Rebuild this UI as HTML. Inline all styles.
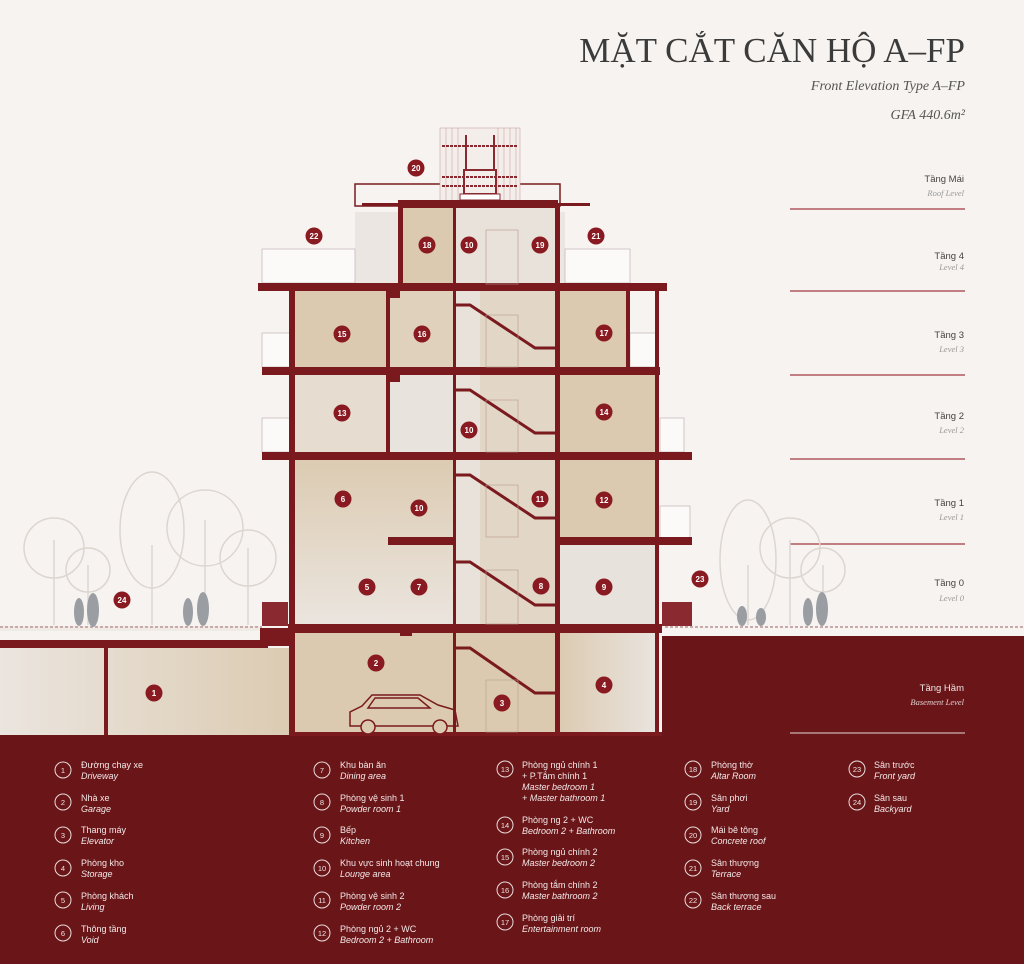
<!DOCTYPE html>
<html><head><meta charset="utf-8"><style>
body{margin:0;background:#f7f3f0;}
svg{display:block}
.t{font-family:"Liberation Sans",sans-serif;}
.s{font-family:"Liberation Serif",serif;}
</style></head><body>
<svg width="1024" height="964" viewBox="0 0 1024 964" xmlns="http://www.w3.org/2000/svg">
<defs>
<linearGradient id="g1" x1="0" x2="1"><stop offset="0" stop-color="#ebe5df"/><stop offset="1" stop-color="#dccbb2"/></linearGradient>
<linearGradient id="g2" x1="0" x2="1"><stop offset="0" stop-color="#dccbb2"/><stop offset="1" stop-color="#e9e4df"/></linearGradient>
<linearGradient id="g3" x1="0" y1="0" x2="0" y2="1"><stop offset="0" stop-color="#dccbb2"/><stop offset="1" stop-color="#ebe5df"/></linearGradient>
</defs>
<rect width="1024" height="964" fill="#f7f3f0"/>
<!-- title -->
<text x="965" y="62" text-anchor="end" class="s" font-size="35" fill="#3b3b3b">MẶT CẮT CĂN HỘ A–FP</text>
<text x="965" y="90" text-anchor="end" class="s" font-size="14" font-style="italic" fill="#555">Front Elevation Type A–FP</text>
<text x="965" y="119" text-anchor="end" class="s" font-size="14" font-style="italic" fill="#555">GFA 440.6m²</text>
<!-- level labels -->
<g class="t" font-size="9.5" fill="#444" text-anchor="end">
<text x="964" y="182">Tầng Mái</text><text x="964" y="259">Tầng 4</text><text x="964" y="338">Tầng 3</text><text x="964" y="419">Tầng 2</text><text x="964" y="506">Tầng 1</text><text x="964" y="586">Tầng 0</text>
</g>
<g class="s" font-size="8.5" font-style="italic" fill="#999" text-anchor="end">
<text x="964" y="196">Roof Level</text><text x="964" y="270">Level 4</text><text x="964" y="352">Level 3</text><text x="964" y="433">Level 2</text><text x="964" y="520">Level 1</text><text x="964" y="601">Level 0</text>
</g>
<g stroke="#a33a42" stroke-width="1.2">
<line x1="790" y1="209" x2="965" y2="209"/><line x1="790" y1="291" x2="965" y2="291"/><line x1="790" y1="375" x2="965" y2="375"/><line x1="790" y1="459" x2="965" y2="459"/><line x1="790" y1="544" x2="965" y2="544"/>
</g>
<!-- trees -->
<g fill="none" stroke="#ddd6d0" stroke-width="1.5">
<circle cx="54" cy="548" r="30"/><circle cx="88" cy="570" r="22"/><ellipse cx="152" cy="530" rx="32" ry="58"/><circle cx="205" cy="528" r="38"/><circle cx="248" cy="558" r="28"/>
<line x1="54" y1="540" x2="54" y2="625"/><line x1="88" y1="565" x2="88" y2="625"/><line x1="152" y1="545" x2="152" y2="625"/><line x1="205" y1="520" x2="205" y2="625"/><line x1="248" y1="548" x2="248" y2="625"/>
<ellipse cx="748" cy="560" rx="28" ry="60"/><circle cx="790" cy="548" r="30"/><circle cx="823" cy="570" r="22"/>
<line x1="748" y1="565" x2="748" y2="625"/><line x1="790" y1="540" x2="790" y2="625"/><line x1="823" y1="565" x2="823" y2="625"/>
</g>
<!-- ground -->
<rect x="0" y="626" width="262" height="5" fill="#f1ebe6"/>
<path d="M0 628 Q3 622 6 628 Q9 622 12 628" fill="none"/>
<line x1="0" y1="627" x2="262" y2="627" stroke="#c9a9aa" stroke-width="2" stroke-dasharray="3 2"/>
<line x1="665" y1="627" x2="1024" y2="627" stroke="#c9a9aa" stroke-width="2" stroke-dasharray="3 2"/>
<rect x="0" y="640" width="268" height="8" fill="#7a1a1f"/>
<rect x="0" y="648" width="292" height="87" fill="url(#g1)"/>
<rect x="104" y="648" width="4" height="87" fill="#7a1a1f"/>
<rect x="260" y="628" width="36" height="18" fill="#7a1a1f"/>
<rect x="262" y="602" width="26" height="24" fill="#8a2a30"/>
<rect x="662" y="636" width="362" height="328" fill="#6a1518"/>
<rect x="662" y="602" width="30" height="24" fill="#8a2a30"/>
<rect x="0" y="735" width="1024" height="229" fill="#6a1518"/>
<line x1="790" y1="733" x2="965" y2="733" stroke="#e8d8d8" stroke-width="1"/>
<text x="964" y="691" text-anchor="end" class="t" font-size="9.5" fill="#f0e6e6">Tầng Hầm</text>
<text x="964" y="705" text-anchor="end" class="s" font-size="8.5" font-style="italic" fill="#e0cfcf">Basement Level</text>
<!-- people -->
<g fill="#9a9ea3">
<ellipse cx="79" cy="612" rx="5" ry="14"/><ellipse cx="93" cy="610" rx="6" ry="17"/><ellipse cx="188" cy="612" rx="5" ry="14"/><ellipse cx="203" cy="609" rx="6" ry="17"/>
<ellipse cx="742" cy="616" rx="5" ry="10"/><ellipse cx="761" cy="617" rx="5" ry="9"/><ellipse cx="808" cy="612" rx="5" ry="14"/><ellipse cx="822" cy="609" rx="6" ry="17"/>
</g>
<!-- building fills -->
<rect x="295" y="633" width="260" height="102" fill="#dccab0"/>
<rect x="560" y="633" width="97" height="102" fill="url(#g2)"/>
<rect x="295" y="460" width="160" height="166" fill="url(#g3)"/>
<rect x="455" y="208" width="100" height="425" fill="#e9e2da"/>
<rect x="480" y="290" width="75" height="340" fill="#e2d6c6"/>
<rect x="560" y="460" width="97" height="80" fill="#dccab0"/>
<rect x="560" y="545" width="97" height="81" fill="#e8e2dc"/>
<rect x="295" y="375" width="93" height="78" fill="#e6dcd0"/>
<rect x="390" y="375" width="63" height="78" fill="#e9e3dd"/>
<rect x="560" y="375" width="97" height="78" fill="#dccab0"/>
<rect x="295" y="291" width="93" height="77" fill="#dccab0"/>
<rect x="390" y="291" width="63" height="77" fill="#e0d1bc"/>
<rect x="560" y="291" width="68" height="77" fill="#dccab0"/>
<rect x="402" y="208" width="51" height="76" fill="#dccab0"/>
<rect x="355" y="212" width="45" height="72" fill="#ebe6e1"/>
<rect x="557" y="212" width="8" height="72" fill="#ebe6e1"/>
<!-- terraces -->
<g fill="#fbfaf9" stroke="#c8bcbc" stroke-width="0.8">
<rect x="262" y="249" width="93" height="34"/><rect x="565" y="249" width="65" height="34"/>
<rect x="262" y="333" width="28" height="34"/><rect x="262" y="418" width="28" height="34"/>
<rect x="630" y="333" width="28" height="34"/><rect x="660" y="418" width="24" height="34"/><rect x="660" y="506" width="30" height="34"/>
</g>
<rect x="355" y="184" width="205" height="22" fill="none" stroke="#7a1a1f" stroke-width="1.5"/>
<!-- roof cage -->
<g stroke="#c9a5a7" stroke-width="0.6">
<rect x="440" y="128" width="80" height="73" fill="#f4eeea"/>
<line x1="446" y1="128" x2="446" y2="200"/><line x1="452" y1="128" x2="452" y2="200"/><line x1="458" y1="128" x2="458" y2="200"/><line x1="498" y1="128" x2="498" y2="200"/><line x1="504" y1="128" x2="504" y2="200"/><line x1="510" y1="128" x2="510" y2="200"/><line x1="516" y1="128" x2="516" y2="200"/>
</g>
<g stroke="#8a2a30" stroke-width="2" fill="none">
<line x1="442" y1="146" x2="518" y2="146" stroke-dasharray="3 1"/><line x1="442" y1="177" x2="518" y2="177" stroke-dasharray="3 1"/><line x1="442" y1="186" x2="518" y2="186" stroke-dasharray="3 1"/>
<rect x="464" y="170" width="32" height="24"/><line x1="466" y1="135" x2="466" y2="170"/><line x1="494" y1="135" x2="494" y2="170"/>
</g>
<rect x="460" y="194" width="40" height="6" fill="#fff" stroke="#8a2a30"/>
<!-- slabs -->
<g fill="#7a1a1f">
<rect x="398" y="200" width="160" height="8"/><rect x="362" y="203" width="36" height="3"/><rect x="558" y="203" width="32" height="3"/>
<rect x="258" y="283" width="409" height="8"/>
<rect x="262" y="367" width="398" height="8"/>
<rect x="262" y="452" width="430" height="8"/>
<rect x="388" y="537" width="67" height="8"/><rect x="555" y="537" width="137" height="8"/>
<rect x="288" y="624" width="374" height="9"/>
<rect x="290" y="732" width="372" height="4"/>
<rect x="289" y="287" width="6" height="449"/><rect x="386" y="287" width="4" height="170"/>
<rect x="453" y="205" width="3" height="530"/><rect x="555" y="205" width="5" height="530"/>
<rect x="655" y="287" width="4" height="449"/><rect x="626" y="287" width="4" height="84"/>
<rect x="398" y="205" width="5" height="82"/>
<rect x="388" y="290" width="12" height="8"/><rect x="388" y="374" width="12" height="8"/><rect x="400" y="628" width="12" height="8"/>
</g>
<!-- stairs -->
<g fill="none" stroke="#7a1a1f" stroke-width="3">
<path d="M455 305 L470 305 L535 348 L555 348"/>
<path d="M455 390 L470 390 L535 433 L555 433"/>
<path d="M455 475 L470 475 L535 518 L555 518"/>
<path d="M455 562 L470 562 L535 605 L555 605"/>
<path d="M455 648 L470 648 L535 693 L555 693"/>
</g>
<g stroke="#b89a8c" stroke-width="0.6">
<rect x="486" y="230" width="32" height="54" fill="none"/><rect x="486" y="315" width="32" height="52" fill="none"/><rect x="486" y="400" width="32" height="52" fill="none"/><rect x="486" y="485" width="32" height="52" fill="none"/><rect x="486" y="570" width="32" height="54" fill="none"/><rect x="486" y="680" width="32" height="52" fill="none"/>
</g>
<!-- car -->
<g fill="none" stroke="#7a1a1f" stroke-width="1.5">
<path d="M350 726 L350 712 L362 706 L372 695 L420 695 L438 705 L455 710 L458 726 Z"/>
<circle cx="368" cy="727" r="7" fill="#dccab0"/><circle cx="440" cy="727" r="7" fill="#dccab0"/>
<path d="M375 698 L368 708 L430 708 L418 698 Z"/>
</g>
<!-- markers -->
<g fill="#8a1a22">
<circle cx="416" cy="168" r="8.5"/><circle cx="314" cy="236" r="8.5"/><circle cx="427" cy="245" r="8.5"/><circle cx="469" cy="245" r="8.5"/><circle cx="540" cy="245" r="8.5"/><circle cx="596" cy="236" r="8.5"/>
<circle cx="342" cy="334" r="8.5"/><circle cx="422" cy="334" r="8.5"/><circle cx="604" cy="333" r="8.5"/><circle cx="342" cy="413" r="8.5"/><circle cx="604" cy="412" r="8.5"/><circle cx="469" cy="430" r="8.5"/>
<circle cx="343" cy="499" r="8.5"/><circle cx="419" cy="508" r="8.5"/><circle cx="540" cy="499" r="8.5"/><circle cx="604" cy="500" r="8.5"/>
<circle cx="367" cy="587" r="8.5"/><circle cx="419" cy="587" r="8.5"/><circle cx="541" cy="586" r="8.5"/><circle cx="604" cy="587" r="8.5"/>
<circle cx="122" cy="600" r="8.5"/><circle cx="700" cy="579" r="8.5"/><circle cx="376" cy="663" r="8.5"/><circle cx="154" cy="693" r="8.5"/><circle cx="502" cy="703" r="8.5"/><circle cx="604" cy="685" r="8.5"/>
</g>
<g class="t" font-size="8" font-weight="bold" fill="#fff" text-anchor="middle">
<text x="416" y="171">20</text><text x="314" y="239">22</text><text x="427" y="248">18</text><text x="469" y="248">10</text><text x="540" y="248">19</text><text x="596" y="239">21</text>
<text x="342" y="337">15</text><text x="422" y="337">16</text><text x="604" y="336">17</text><text x="342" y="416">13</text><text x="604" y="415">14</text><text x="469" y="433">10</text>
<text x="343" y="502">6</text><text x="419" y="511">10</text><text x="540" y="502">11</text><text x="604" y="503">12</text>
<text x="367" y="590">5</text><text x="419" y="590">7</text><text x="541" y="589">8</text><text x="604" y="590">9</text>
<text x="122" y="603">24</text><text x="700" y="582">23</text><text x="376" y="666">2</text><text x="154" y="696">1</text><text x="502" y="706">3</text><text x="604" y="688">4</text>
</g>
<!-- legend -->
<g fill="none" stroke="#eadcdc" stroke-width="1">
<circle cx="63" cy="770" r="8"/><circle cx="63" cy="802" r="8"/><circle cx="63" cy="835" r="8"/><circle cx="63" cy="868" r="8"/><circle cx="63" cy="900" r="8"/><circle cx="63" cy="933" r="8"/>
<circle cx="322" cy="770" r="8"/><circle cx="322" cy="802" r="8"/><circle cx="322" cy="835" r="8"/><circle cx="322" cy="868" r="8"/><circle cx="322" cy="900" r="8"/><circle cx="322" cy="933" r="8"/>
<circle cx="505" cy="769" r="8"/><circle cx="505" cy="825" r="8"/><circle cx="505" cy="857" r="8"/><circle cx="505" cy="890" r="8"/><circle cx="505" cy="922" r="8"/>
<circle cx="693" cy="769" r="8"/><circle cx="693" cy="802" r="8"/><circle cx="693" cy="835" r="8"/><circle cx="693" cy="868" r="8"/><circle cx="693" cy="900" r="8"/>
<circle cx="857" cy="769" r="8"/><circle cx="857" cy="802" r="8"/>
</g>
<g class="t" font-size="7.5" fill="#f0e4e4" text-anchor="middle">
<text x="63" y="773">1</text><text x="63" y="805">2</text><text x="63" y="838">3</text><text x="63" y="871">4</text><text x="63" y="903">5</text><text x="63" y="936">6</text>
<text x="322" y="773">7</text><text x="322" y="805">8</text><text x="322" y="838">9</text><text x="322" y="871">10</text><text x="322" y="903">11</text><text x="322" y="936">12</text>
<text x="505" y="772">13</text><text x="505" y="828">14</text><text x="505" y="860">15</text><text x="505" y="893">16</text><text x="505" y="925">17</text>
<text x="693" y="772">18</text><text x="693" y="805">19</text><text x="693" y="838">20</text><text x="693" y="871">21</text><text x="693" y="903">22</text>
<text x="857" y="772">23</text><text x="857" y="805">24</text>
</g>
<g class="t" font-size="9" fill="#f3e8e8">
<text x="81" y="768">Đường chạy xe</text><text x="81" y="801">Nhà xe</text><text x="81" y="833">Thang máy</text><text x="81" y="866">Phòng kho</text><text x="81" y="899">Phòng khách</text><text x="81" y="932">Thông tầng</text>
<text x="340" y="768">Khu bàn ăn</text><text x="340" y="801">Phòng vệ sinh 1</text><text x="340" y="833">Bếp</text><text x="340" y="866">Khu vực sinh hoạt chung</text><text x="340" y="899">Phòng vệ sinh 2</text><text x="340" y="932">Phòng ngủ 2 + WC</text>
<text x="522" y="768">Phòng ngủ chính 1</text><text x="522" y="779">+ P.Tắm chính 1</text><text x="522" y="823">Phòng ng 2 + WC</text><text x="522" y="855">Phòng ngủ chính 2</text><text x="522" y="888">Phòng tắm chính 2</text><text x="522" y="921">Phòng giải trí</text>
<text x="711" y="768">Phòng thờ</text><text x="711" y="801">Sân phơi</text><text x="711" y="833">Mái bê tông</text><text x="711" y="866">Sân thượng</text><text x="711" y="899">Sân thượng sau</text>
<text x="874" y="768">Sân trước</text><text x="874" y="801">Sân sau</text>
</g>
<g class="t" font-size="9" font-style="italic" fill="#f3e8e8">
<text x="81" y="779">Driveway</text><text x="81" y="812">Garage</text><text x="81" y="844">Elevator</text><text x="81" y="877">Storage</text><text x="81" y="910">Living</text><text x="81" y="943">Void</text>
<text x="340" y="779">Dining area</text><text x="340" y="812">Powder room 1</text><text x="340" y="844">Kitchen</text><text x="340" y="877">Lounge area</text><text x="340" y="910">Powder room 2</text><text x="340" y="943">Bedroom 2 + Bathroom</text>
<text x="522" y="790">Master bedroom 1</text><text x="522" y="801">+ Master bathroom 1</text><text x="522" y="834">Bedroom 2 + Bathroom</text><text x="522" y="866">Master bedroom 2</text><text x="522" y="899">Master bathroom 2</text><text x="522" y="932">Entertainment room</text>
<text x="711" y="779">Altar Room</text><text x="711" y="812">Yard</text><text x="711" y="844">Concrete roof</text><text x="711" y="877">Terrace</text><text x="711" y="910">Back terrace</text>
<text x="874" y="779">Front yard</text><text x="874" y="812">Backyard</text>
</g>
</svg>
</body></html>
